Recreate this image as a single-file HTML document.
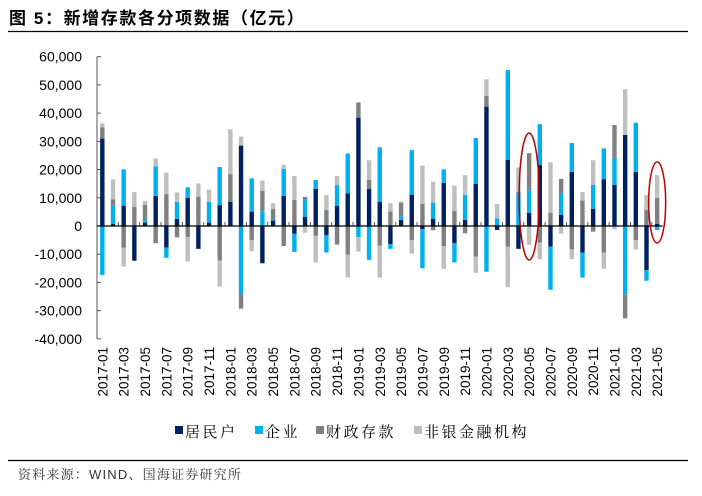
<!DOCTYPE html>
<html><head><meta charset="utf-8"><style>
body{margin:0;background:#fff;width:702px;height:491px;overflow:hidden;font-family:"Liberation Sans","Noto Sans CJK SC",sans-serif}
</style></head><body>
<svg id="c" width="702" height="491" xmlns="http://www.w3.org/2000/svg">
<text x="9" y="24" font-size="17" font-weight="bold" letter-spacing="1.6" fill="#000" font-family="Liberation Sans,Noto Sans CJK SC,sans-serif">图 5：新增存款各分项数据（亿元）</text>
<line x1="8" y1="31.5" x2="688" y2="31.5" stroke="#000" stroke-width="1.3"/>
<line x1="8" y1="460.5" x2="688" y2="460.5" stroke="#000" stroke-width="1.3"/>
<text x="18" y="479" font-size="13" letter-spacing="1.2" fill="#333" font-family="Liberation Sans,Noto Serif CJK SC,serif">资料来源：WIND、国海证券研究所</text>
<g id="plot"></g>
</svg>
<script>
const categories=[];for(let y=2017;y<=2021;y++)for(let m=1;m<=12;m++){if(y===2021&&m>5)break;categories.push(y+'-'+String(m).padStart(2,'0'));}
const household=[31000,700,7100,-12300,1200,10700,-7600,2500,10000,-8100,1200,7400,8600,28500,5100,-13200,1900,10700,-2800,3300,13200,-3300,7200,11500,38400,13100,8500,-6400,2200,11100,-1100,2600,15300,-6100,2200,15000,42300,-1400,23400,-8100,4700,21600,-7300,3900,19200,-9400,6100,16600,14600,32300,19200,-15600,800];
const corporate=[-17400,6800,13000,0,900,10500,-3700,6000,3700,0,7300,13500,0,-24100,11800,5200,400,9500,-6400,6100,3100,-6100,7300,14200,-3900,-12000,19400,-1700,1300,15800,-13900,5700,4800,-6800,8800,16200,-16200,2700,31900,11600,8000,14500,-15300,7600,10200,-8900,8500,10900,9600,-24200,17400,-3800,-1400];
const fiscal=[4000,1900,-7700,6800,5400,-6100,11300,-4000,-3900,10400,0,-12300,9800,-5200,-5000,7200,3700,-7100,9200,900,-3500,5700,-6600,-10200,5400,3200,-7000,5100,4700,-5000,7800,-1500,-7100,5300,-2600,-10900,3800,0,-7300,500,13100,-5900,4700,5200,-8300,9000,-2000,-9400,11600,-8500,-5000,5700,9200];
const nonbank=[1400,7100,-6700,5200,1300,2700,7600,3400,-8700,4700,4400,-9200,15900,3200,-3900,3700,2100,1500,8500,-2400,-9400,5300,3200,-8000,-5200,7000,-11300,3000,600,-4800,13600,7400,-8100,9000,7000,-5700,5900,5100,-14400,8600,-6700,-5900,17900,-2700,-3400,3000,8700,-5800,-1200,16200,-3300,5300,8000];
const yTicks=[-40000,-30000,-20000,-10000,0,10000,20000,30000,40000,50000,60000];
const seriesNames=['居民户','企业','财政存款','非银金融机构'];
const colors=['#002060','#00B0F0','#808080','#BFBFBF'];
const NS='http://www.w3.org/2000/svg';
const g=document.getElementById('plot');
const X0=97,X1=662.5,Y0=226,YT=56.7;
const bw=(X1-X0)/categories.length;
const y=v=>Y0-v*(Y0-YT)/60000;
const xc=i=>X0+bw*(i+0.5);
function mk(t,a){const e=document.createElementNS(NS,t);for(const k in a)e.setAttribute(k,a[k]);g.appendChild(e);return e;}
let ax=mk('line',{x1:X0,y1:y(60000),x2:X0,y2:y(-40000),stroke:'#555','stroke-width':1});


yTicks.forEach(v=>{
 const t=mk('line',{x1:X0,y1:y(v),x2:X0+4,y2:y(v),stroke:'#555','stroke-width':1});
 
 
 const l=mk('text',{x:82,y:y(v)+5,'text-anchor':'end','font-size':14,fill:'#000'});
 l.textContent=v.toLocaleString('en-US');
 
 
});
const series=[household,corporate,fiscal,nonbank];
categories.forEach((c,i)=>{
 let pos=0,neg=0;
 series.forEach((s,k)=>{
  const v=s[i];if(!v)return;
  let a,b;if(v>0){a=pos;b=pos+v;pos=b;}else{a=neg;b=neg+v;neg=b;}
  const r=mk('rect',{x:xc(i)-2.2,y:Math.min(y(a),y(b)),width:4.4,height:Math.abs(y(a)-y(b)),fill:colors[k]});
  
  
 });
 if(i%2===0){
  const l=mk('text',{x:0,y:0,'font-size':13.5,fill:'#000','text-anchor':'end',transform:`translate(${xc(i)+5},347) rotate(-90)`});
  l.textContent=c;
  
  
 }
 if(i%2===0&&i>0){
  const t=mk('line',{x1:X0+bw*i,y1:Y0,x2:X0+bw*i,y2:Y0-4,stroke:'#555','stroke-width':1});
  
  
 }
});
const z=mk('line',{x1:X0,y1:Y0,x2:X1,y2:Y0,stroke:'#000','stroke-width':1.3});


[[40,133,260,10],[52,162,243,8.5]].forEach(([i,t,b,rx])=>{
 const e=mk('ellipse',{cx:xc(i),cy:(t+b)/2,rx:rx,ry:(b-t)/2,fill:'none',stroke:'#C00000','stroke-width':1.5});
 
 
});
const lx=[175,255,316,414];
seriesNames.forEach((n,k)=>{
 const r=mk('rect',{x:lx[k],y:426,width:8,height:8,fill:colors[k]});
 
 
 const t=mk('text',{x:lx[k]+10,y:437,'font-size':15,'letter-spacing':2.5,fill:'#000','font-family':'Noto Serif CJK SC,serif'});
 t.textContent=n;
 
 
});
</script>
</body></html>
